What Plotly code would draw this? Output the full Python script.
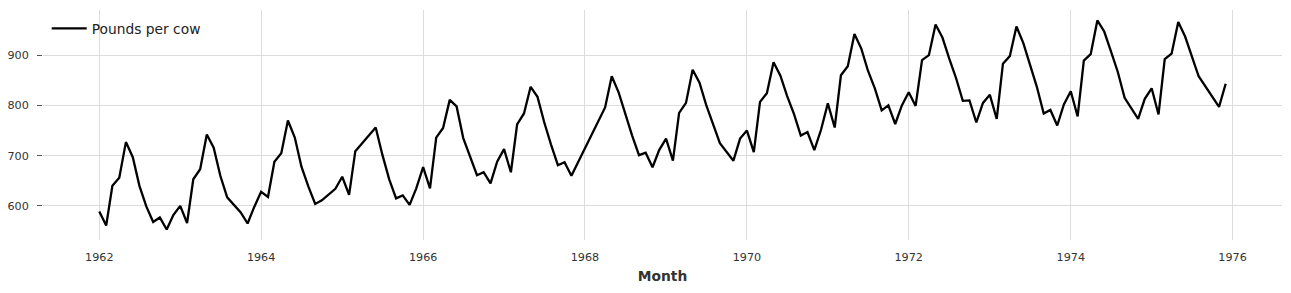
import pandas as pd
import plotly.graph_objects as go

# Monthly milk production (pounds per cow), Jan..Dec; None = month absent from the series
years = list(range(1962, 1976))
v1962 = [589, 561, 640, 656, 727, 697, 640, 599, 568, 577, 553, 582]
v1963 = [600, 566, 653, 673, 742, 716, 660, 617, None, 587, 565, 598]
v1964 = [628, 618, 688, 705, 770, 736, 678, 639, 604, 611, None, 634]
v1965 = [658, 622, 709, None, None, 756, 702, 653, 615, 621, 602, 635]
v1966 = [677, 635, 736, 755, 811, 798, 735, 697, 661, 667, 645, 688]
v1967 = [713, 667, 762, 784, 837, 817, 767, 722, 681, 687, 660, None]
v1968 = [None, None, None, 796, 858, 826, 783, 740, 701, 706, 677, 711]
v1969 = [734, 690, 785, 805, 871, 845, 801, 764, 725, None, 690, 734]
v1970 = [750, 707, 807, 824, 886, 859, 819, 783, 740, 747, 711, 751]
v1971 = [804, 756, 860, 878, 942, 913, 869, 834, 790, 800, 763, 800]
v1972 = [826, 799, 890, 900, 961, 935, 894, 855, 809, 810, 766, 805]
v1973 = [821, 773, 883, 898, 957, 924, 881, 837, 784, 791, 760, 802]
v1974 = [828, 778, 889, 902, 969, 947, 908, 867, 815, None, 773, 813]
v1975 = [834, 782, 892, 903, 966, 937, 896, 858, None, None, 797, 843]

series_name = "Pounds per cow"
x_title = "Month"
tick_years = ["1962", "1964", "1966", "1968", "1970", "1972", "1974", "1976"]

values = (v1962 + v1963 + v1964 + v1965 + v1966 + v1967 + v1968 +
          v1969 + v1970 + v1971 + v1972 + v1973 + v1974 + v1975)
dates = pd.date_range(f"{years[0]}-01-01", periods=len(values), freq="MS")

xs = [d for d, v in zip(dates, values) if v is not None]
ys = [v for v in values if v is not None]

# matplotlib-like 5% margins
span = dates[-1] - dates[0]
x_range = [dates[0] - span * 0.05, dates[-1] + span * 0.05]
ymin, ymax = min(ys), max(ys)
yr = ymax - ymin
y_range = [ymin - 0.05 * yr, ymax + 0.05 * yr]

fig = go.Figure()
fig.add_trace(go.Scatter(
    x=xs, y=ys, mode="lines", name=series_name,
    line=dict(color="black", width=2.3),
    showlegend=True,
))

grid = "#dcdcdc"
fig.update_layout(
    width=1291, height=293,
    margin=dict(l=43, r=9, t=10, b=53),
    paper_bgcolor="white", plot_bgcolor="white",
    font=dict(family="DejaVu Sans", color="#333333"),
    showlegend=True,
    legend=dict(x=0.003, y=0.987, xanchor="left", yanchor="top",
                bgcolor="rgba(0,0,0,0)", borderwidth=0, itemwidth=35,
                font=dict(size=13.8, color="#222222")),
    xaxis=dict(
        type="date", range=x_range, automargin=False,
        tickmode="array",
        tickvals=[pd.Timestamp(f"{y}-01-01") for y in tick_years],
        ticktext=tick_years,
        showgrid=True, gridcolor=grid, gridwidth=1,
        zeroline=False, showline=False, ticks="",
        ticklabelstandoff=9,
        tickfont=dict(size=11.2, color="#333333"),
        title=dict(text=f"<b>{x_title}</b>", font=dict(size=13.8, color="#333333"), standoff=8),
    ),
    yaxis=dict(
        range=y_range, automargin=False,
        tickvals=[600, 700, 800, 900],
        showgrid=True, gridcolor=grid, gridwidth=1,
        zeroline=False, showline=False,
        ticks="outside", ticklen=5, tickcolor="#555555", tickwidth=1,
        ticklabelstandoff=6,
        tickfont=dict(size=11.2, color="#333333"),
    ),
)

fig.write_html("out.html")
